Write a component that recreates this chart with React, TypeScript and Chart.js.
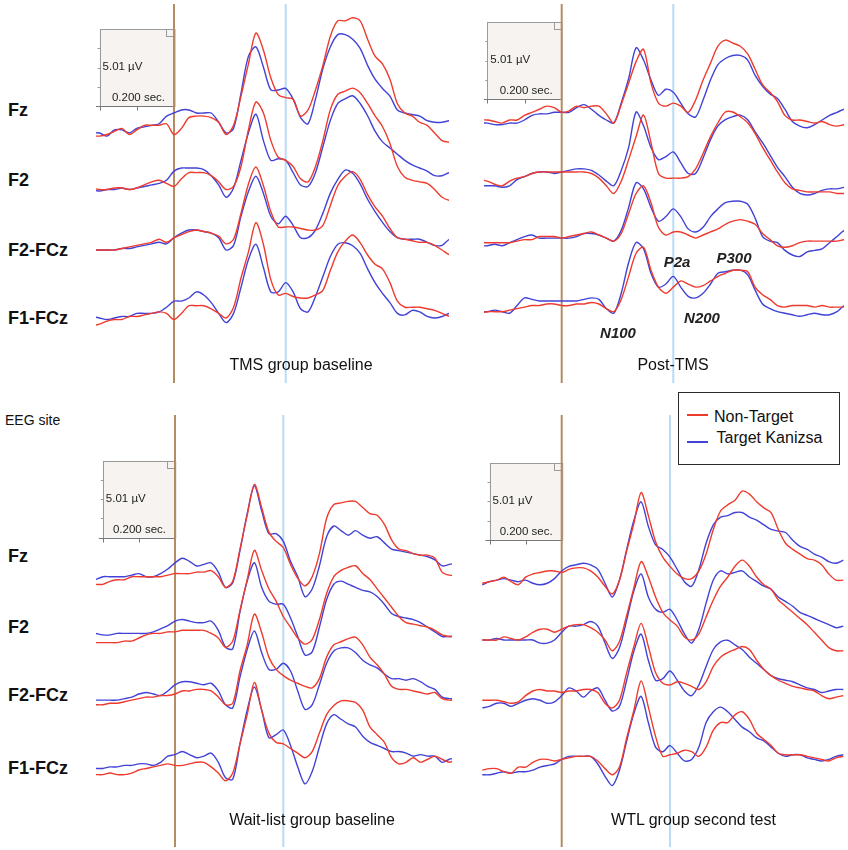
import React, { useEffect, useRef } from "react";
import { Chart, registerables } from "chart.js";

Chart.register(...registerables);

// ---------------- data ----------------
const TIMES_MS = [
  -220, -200, -180, -160, -140, -120, -100, -80, -60, -40,
  -20, 0, 20, 40, 60, 80, 100, 120, 140, 160,
  180, 200, 220, 240, 260, 280, 300, 320, 340, 360,
  380, 400, 420, 440, 460, 480, 500, 520, 540, 560,
  580, 600, 620, 640, 660, 680, 700, 720, 740, 760,
  780,
];
const CHANNELS = ["Fz", "F2", "F2-FCz", "F1-FCz"];
const SERIES_NAMES = ["Non-Target", "Target Kanizsa"];
const SCALE_UV = 5.01;
const SCALE_MS = 200;
const MARKER_MS = 300;
const ANNOTATIONS = ["P2a", "P300", "N100", "N200"];

// TMS group baseline (µV)
const TMSB_FZ_NON = [
  -0.2, -0.2, -0.1, 0.1, 0.3, -0.1, 0.2, 0.5, 0.5, 0.5,
  0.6, -0.1, 0.3, 1.0, 1.1, 1.1, 1.0, 0.7, -0.1, 0.5,
  2.4, 4.5, 6.5, 5.4, 3.6, 2.5, 2.3, 2.2, 1.1, 1.5,
  2.8, 4.4, 6.3, 7.3, 7.3, 7.5, 7.3, 6.1, 5.0, 4.5,
  3.5, 1.9, 1.3, 1.1, 0.7, 0.5, 0.0, -0.5, -0.6, -0.6,
  -0.6,
];
const TMSB_FZ_TGT = [
  0.0, 0.0, -0.2, 0.2, 0.2, 0.0, 0.3, 0.4, 0.5, 0.6,
  1.1, 1.3, 1.5, 1.5, 1.3, 1.3, 1.3, 0.7, 0.0, 0.3,
  2.6, 5.0, 5.6, 4.3, 2.8, 2.8, 2.9, 2.2, 1.0, 0.6,
  2.2, 4.2, 5.6, 6.4, 6.4, 6.1, 5.5, 4.4, 3.5, 2.9,
  2.4, 1.5, 1.3, 1.2, 1.1, 0.8, 0.7, 0.7, 0.8, 0.8,
  0.8,
];
const TMSB_F2_NON = [
  0.0, -0.1, -0.1, 0.0, 0.0, -0.1, 0.0, 0.2, 0.4, 0.5,
  0.3, 0.1, 0.6, 1.0, 1.0, 1.0, 0.8, 0.4, -0.1, 0.1,
  1.4, 3.8, 5.6, 4.9, 3.1, 2.0, 1.8, 1.4, 0.6, 0.4,
  1.4, 3.1, 5.1, 6.1, 6.3, 6.5, 6.2, 5.5, 4.7, 4.0,
  2.9, 1.4, 0.7, 0.5, 0.4, 0.3, -0.1, -0.6, -0.8, -0.8,
  -0.8,
];
const TMSB_F2_TGT = [
  -0.1, -0.2, -0.1, -0.1, 0.0, -0.1, 0.0, 0.1, 0.2, 0.3,
  0.5, 1.1, 1.3, 1.3, 1.3, 1.2, 0.8, 0.2, -0.6, 0.0,
  1.8, 3.6, 4.8, 3.1, 1.8, 1.9, 1.8, 1.0, 0.2, 0.1,
  1.0, 2.7, 4.4, 5.5, 5.8, 6.0, 5.5, 4.7, 3.7, 3.0,
  2.6, 2.2, 1.8, 1.5, 1.3, 1.1, 0.8, 0.8, 1.0, 1.0,
  1.0,
];
const TMSB_F2FCZ_NON = [
  0.0, 0.0, 0.0, 0.0, 0.1, 0.2, 0.3, 0.4, 0.5, 0.7,
  0.5, 0.8, 1.0, 1.2, 1.3, 1.2, 1.1, 0.9, 0.4, 0.7,
  2.4, 4.3, 5.4, 4.2, 2.5, 1.5, 1.5, 1.5, 1.4, 1.3,
  1.3, 1.6, 2.9, 4.2, 4.8, 5.1, 4.6, 3.6, 2.8, 2.2,
  1.4, 0.8, 0.7, 0.6, 0.5, 0.5, 0.3, 0.0, -0.3, -0.3,
  -0.3,
];
const TMSB_F2FCZ_TGT = [
  0.0, 0.0, 0.0, 0.0, 0.1, 0.1, 0.2, 0.3, 0.4, 0.5,
  0.4, 0.8, 1.1, 1.3, 1.3, 1.2, 1.1, 0.8, 0.0, 0.3,
  2.2, 3.8, 4.8, 3.7, 2.2, 1.7, 2.2, 1.6, 0.8, 0.8,
  1.3, 2.4, 3.7, 4.6, 5.2, 5.0, 4.3, 3.3, 2.5, 1.8,
  1.2, 0.8, 0.7, 0.7, 0.7, 0.5, 0.3, 0.3, 0.7, 0.7,
  0.7,
];
const TMSB_F1FCZ_NON = [
  -0.5, -0.4, -0.2, -0.1, -0.1, 0.1, 0.1, 0.2, 0.3, 0.4,
  0.3, -0.1, 0.3, 0.8, 0.8, 0.8, 0.6, 0.3, 0.0, 0.7,
  2.6, 4.3, 6.2, 4.8, 2.5, 1.5, 1.6, 1.4, 1.3, 1.3,
  1.5, 1.8, 3.1, 4.3, 5.0, 5.4, 4.9, 4.1, 3.5, 3.2,
  2.3, 1.1, 0.7, 0.7, 0.7, 0.6, 0.5, 0.3, 0.1, 0.1,
  0.1,
];
const TMSB_F1FCZ_TGT = [
  0.1, 0.0, -0.1, 0.0, 0.1, 0.1, 0.3, 0.3, 0.3, 0.4,
  0.7, 1.1, 1.1, 1.3, 1.7, 1.5, 1.0, 0.3, -0.3, 0.3,
  2.0, 3.8, 4.8, 3.3, 1.7, 1.7, 2.3, 1.7, 0.6, 0.4,
  1.4, 2.7, 4.0, 4.8, 4.9, 4.7, 4.2, 3.2, 2.3, 1.6,
  1.0, 0.3, 0.2, 0.5, 0.4, 0.1, 0.0, 0.1, 0.3, 0.3,
  0.3,
];

// Post-TMS (µV)
const POST_FZ_NON = [
  0.0, 0.0, -0.1, -0.2, 0.0, 0.0, 0.3, 0.5, 0.7, 0.9,
  0.8, 0.5, 0.6, 0.9, 0.8, 0.9, 0.9, 0.4, -0.2, 1.0,
  2.4, 3.8, 4.6, 2.4, 1.1, 0.9, 1.1, 0.9, 0.5, 1.3,
  2.6, 3.7, 4.8, 5.2, 5.0, 4.8, 4.3, 3.3, 2.3, 1.8,
  1.2, 0.3, 0.0, 0.0, -0.1, -0.2, -0.1, -0.3, -0.4, -0.3,
  -0.3,
];
const POST_FZ_TGT = [
  -0.2, -0.2, -0.3, -0.3, -0.2, -0.2, 0.0, 0.3, 0.4, 0.4,
  0.5, 0.5, 0.5, 0.8, 1.0, 0.7, 0.3, 0.0, -0.2, 1.1,
  2.7, 4.7, 3.9, 2.6, 1.6, 2.0, 1.8, 1.1, 0.4, 0.2,
  1.3, 2.6, 3.6, 4.0, 4.2, 4.2, 3.9, 2.9, 2.2, 1.7,
  1.4, 0.7, -0.1, -0.4, -0.5, -0.3, 0.0, 0.3, 0.5, 0.7,
  0.7,
];
const POST_F2_NON = [
  0.2, 0.1, -0.1, -0.2, 0.1, 0.3, 0.4, 0.6, 0.7, 0.7,
  0.7, 0.7, 0.7, 0.7, 0.7, 0.6, 0.3, -0.2, -0.7, 0.1,
  1.5, 3.0, 4.4, 2.6, 0.6, 0.3, 0.3, 0.3, 0.4, 0.9,
  1.9, 3.0, 3.9, 4.6, 4.6, 4.3, 3.9, 3.2, 2.3, 1.5,
  0.7, 0.0, -0.4, -0.5, -0.6, -0.6, -0.6, -0.6, -0.7, -0.7,
  -0.7,
];
const POST_F2_TGT = [
  -0.2, -0.2, -0.2, -0.3, -0.2, 0.2, 0.4, 0.6, 0.7, 0.7,
  0.6, 0.7, 0.8, 0.9, 0.9, 0.8, 0.5, 0.1, -0.2, 0.8,
  2.3, 4.6, 3.7, 2.3, 1.5, 1.7, 2.0, 1.3, 0.6, 0.6,
  1.6, 2.8, 3.7, 4.1, 4.3, 4.4, 4.1, 3.3, 2.6, 1.8,
  1.0, 0.4, -0.3, -0.7, -0.8, -0.7, -0.5, -0.4, -0.4, -0.3,
  -0.3,
];
const POST_F2FCZ_NON = [
  0.0, 0.0, 0.0, 0.0, 0.0, 0.1, 0.2, 0.2, 0.4, 0.4,
  0.4, 0.3, 0.4, 0.5, 0.6, 0.7, 0.5, 0.3, 0.1, 0.6,
  1.9, 3.2, 3.7, 2.6, 1.0, 0.5, 0.7, 0.7, 0.5, 0.3,
  0.5, 0.7, 0.9, 1.2, 1.4, 1.5, 1.4, 1.2, 0.6, 0.2,
  -0.2, -0.3, -0.2, 0.0, 0.1, 0.1, 0.1, 0.1, 0.1, 0.2,
  0.2,
];
const POST_F2FCZ_TGT = [
  -0.2, -0.2, -0.1, -0.2, 0.0, 0.2, 0.4, 0.5, 0.3, 0.3,
  0.3, 0.3, 0.3, 0.4, 0.6, 0.6, 0.5, 0.3, 0.1, 0.8,
  2.3, 3.9, 3.5, 2.3, 1.4, 1.7, 2.2, 1.7, 0.9, 0.7,
  1.0, 1.7, 2.2, 2.6, 2.7, 2.7, 2.5, 1.6, 0.4, 0.1,
  0.0, -0.5, -0.8, -0.9, -0.6, -0.5, -0.4, 0.0, 0.4, 0.8,
  0.8,
];
const POST_F1FCZ_NON = [
  -0.1, 0.0, 0.0, 0.0, 0.1, 0.2, 0.3, 0.4, 0.4, 0.5,
  0.5, 0.4, 0.4, 0.5, 0.5, 0.6, 0.5, 0.2, 0.0, 0.8,
  2.3, 3.8, 4.2, 2.7, 1.6, 1.2, 1.6, 2.0, 1.8, 1.6,
  1.7, 2.0, 2.3, 2.5, 2.7, 2.7, 2.6, 1.6, 1.1, 0.8,
  0.4, 0.3, 0.4, 0.4, 0.4, 0.3, 0.4, 0.3, 0.3, 0.3,
  0.3,
];
const POST_F1FCZ_TGT = [
  0.0, 0.0, 0.1, 0.0, -0.1, 0.4, 0.9, 0.8, 0.7, 0.7,
  0.7, 0.7, 0.7, 0.7, 0.8, 0.9, 0.8, 0.2, -0.1, 1.2,
  3.2, 4.5, 4.1, 2.5, 1.6, 1.8, 2.3, 1.6, 1.0, 0.9,
  1.2, 1.8, 2.5, 2.6, 2.7, 2.7, 2.4, 1.4, 0.5, 0.2,
  0.0, -0.1, -0.2, -0.3, -0.2, -0.1, -0.2, -0.2, 0.0, 0.4,
  0.4,
];

// Wait-list group baseline (µV)
const WLB_FZ_NON = [
  -0.5, -0.5, -0.3, -0.2, -0.2, 0.0, 0.0, 0.0, 0.0, 0.0,
  0.1, 0.2, 0.2, 0.2, 0.3, 0.3, 0.4, 0.0, -0.7, -0.3,
  1.8, 4.0, 6.0, 4.5, 2.9, 2.3, 1.9, 0.8, -0.1, -0.6,
  0.0, 1.5, 3.8, 4.7, 4.8, 4.9, 4.9, 4.5, 4.1, 4.0,
  3.4, 2.4, 1.8, 1.7, 1.5, 1.4, 1.4, 1.2, 0.3, 0.1,
  0.1,
];
const WLB_FZ_TGT = [
  -0.2, 0.0, 0.0, 0.0, 0.0, 0.1, 0.2, 0.0, 0.0, 0.2,
  0.5, 0.9, 1.2, 1.0, 0.7, 0.8, 0.9, 0.3, -0.7, -0.4,
  1.7, 4.1, 5.9, 4.3, 2.8, 2.8, 2.3, 1.0, 0.0, -1.3,
  -0.8, 0.7, 2.6, 3.3, 3.0, 2.7, 3.0, 2.7, 2.5, 2.6,
  2.2, 1.8, 1.7, 1.6, 1.5, 1.4, 1.3, 1.1, 0.7, 0.8,
  0.9,
];
const WLB_F2_NON = [
  -0.3, -0.3, -0.3, -0.3, -0.2, -0.2, 0.0, 0.2, 0.3, 0.3,
  0.4, 0.4, 0.5, 0.5, 0.5, 0.5, 0.3, 0.0, -0.6, -0.2,
  1.8, 3.8, 5.7, 4.4, 3.2, 2.4, 1.4, 0.7, 0.0, -0.4,
  -0.1, 1.2, 2.9, 4.0, 4.4, 4.6, 4.7, 4.2, 3.8, 3.2,
  2.6, 2.0, 1.4, 1.0, 0.9, 0.8, 0.7, 0.5, 0.2, 0.1,
  0.1,
];
const WLB_F2_TGT = [
  0.3, 0.2, 0.2, 0.3, 0.3, 0.3, 0.3, 0.3, 0.4, 0.6,
  0.8, 1.1, 1.2, 1.1, 1.0, 1.0, 1.1, 0.5, -0.6, -0.7,
  1.7, 3.7, 4.9, 3.3, 2.4, 2.2, 2.2, 1.3, 0.1, -1.1,
  -0.9, 0.7, 2.5, 3.5, 3.7, 3.5, 3.3, 3.1, 3.0, 2.7,
  2.2, 1.6, 1.4, 1.3, 1.2, 1.0, 0.7, 0.4, 0.1, 0.1,
  0.1,
];
const WLB_F2FCZ_NON = [
  -0.2, -0.2, -0.1, -0.1, 0.0, 0.1, 0.2, 0.3, 0.3, 0.4,
  0.4, 0.5, 0.7, 0.7, 0.8, 0.8, 0.7, 0.3, -0.2, -0.1,
  2.0, 3.7, 5.7, 4.5, 2.9, 2.1, 1.7, 1.4, 1.2, 1.0,
  0.9, 1.5, 2.9, 3.7, 3.9, 4.1, 4.2, 3.7, 2.9, 2.4,
  1.8, 1.0, 0.8, 0.8, 0.7, 0.6, 0.5, 0.6, 0.2, 0.1,
  0.1,
];
const WLB_F2FCZ_TGT = [
  0.1, 0.1, 0.1, 0.1, 0.2, 0.3, 0.5, 0.6, 0.5, 0.4,
  0.7, 1.1, 1.3, 1.3, 1.2, 1.1, 1.2, 0.7, -0.2, -0.4,
  1.6, 3.4, 4.6, 3.2, 2.1, 2.1, 2.5, 2.0, 0.7, -0.5,
  -0.2, 1.1, 2.5, 3.3, 3.5, 3.5, 3.2, 2.7, 2.4, 2.2,
  1.8, 1.5, 1.5, 1.4, 1.5, 1.3, 1.0, 0.8, 0.3, 0.2,
  0.2,
];
const WLB_F1FCZ_NON = [
  -0.3, -0.3, -0.2, -0.3, -0.3, -0.2, 0.0, 0.1, 0.2, 0.3,
  0.4, 0.3, 0.3, 0.4, 0.5, 0.5, 0.2, -0.2, -0.7, -0.2,
  1.7, 3.6, 5.7, 3.9, 2.4, 1.8, 1.7, 1.4, 1.1, 0.8,
  1.2, 2.4, 3.6, 4.2, 4.5, 4.5, 4.4, 3.9, 2.8, 2.3,
  1.8, 0.8, 0.4, 0.5, 0.8, 0.5, 0.7, 0.9, 0.7, 0.5,
  0.7,
];
const WLB_F1FCZ_TGT = [
  0.1, 0.1, 0.2, 0.2, 0.3, 0.3, 0.4, 0.4, 0.3, 0.5,
  0.9, 1.0, 1.2, 1.0, 0.8, 0.9, 1.1, 0.5, -0.5, -0.6,
  1.7, 3.9, 5.4, 3.9, 2.1, 2.3, 2.6, 1.6, 0.2, -0.9,
  -0.1, 1.5, 3.0, 3.6, 3.3, 3.0, 2.8, 2.2, 1.8, 1.6,
  1.4, 1.2, 1.2, 1.1, 0.9, 1.0, 0.9, 0.9, 0.5, 0.7,
  0.8,
];

// WTL group second test (µV)
const WTL2_FZ_NON = [
  -0.1, 0.0, 0.1, 0.3, 0.0, -0.2, 0.3, 0.5, 0.6, 0.7,
  0.7, 0.6, 0.8, 0.9, 0.9, 0.7, 0.3, -0.3, -0.8, 0.1,
  2.0, 3.8, 5.8, 4.3, 2.6, 1.6, 1.0, 0.5, 0.2, 0.2,
  0.7, 1.8, 3.4, 4.6, 5.0, 5.3, 5.9, 5.7, 5.2, 4.8,
  4.5, 3.4, 2.5, 2.1, 1.8, 1.5, 1.4, 1.1, 0.5, 0.1,
  0.1,
];
const WTL2_FZ_TGT = [
  -0.2, 0.0, 0.1, 0.2, 0.1, 0.0, 0.1, -0.1, -0.2, -0.1,
  0.2, 0.7, 1.0, 1.1, 1.2, 1.1, 0.8, -0.1, -1.0, 0.1,
  2.1, 4.0, 5.2, 3.6, 2.4, 2.1, 1.6, 0.8, 0.0, -0.3,
  0.8, 2.5, 3.7, 4.2, 4.3, 4.5, 4.5, 4.2, 4.0, 3.7,
  3.4, 3.3, 3.2, 2.7, 2.3, 2.1, 1.8, 1.6, 1.3, 1.2,
  1.4,
];
const WTL2_F2_NON = [
  0.0, 0.0, 0.0, 0.2, 0.1, 0.0, 0.2, 0.5, 0.7, 0.7,
  0.5, 0.7, 0.9, 1.0, 1.0, 0.8, 0.5, 0.0, -0.7, -0.1,
  1.6, 3.4, 5.1, 4.1, 2.8, 1.8, 1.3, 0.9, 0.2, 0.0,
  0.4, 1.5, 2.6, 3.5, 4.1, 4.8, 5.2, 4.8, 4.1, 3.6,
  3.3, 2.6, 2.2, 1.8, 1.4, 1.0, 0.5, 0.0, -0.5, -0.7,
  -0.7,
];
const WTL2_F2_TGT = [
  0.0, 0.0, 0.1, 0.0, 0.0, 0.0, 0.0, 0.0, -0.2, -0.2,
  0.0, 0.5, 0.9, 0.9, 1.0, 1.2, 0.9, -0.2, -1.2, -0.5,
  1.3, 3.2, 4.3, 2.8, 2.0, 1.8, 2.0, 1.3, 0.4, -0.2,
  0.7, 2.4, 3.9, 4.5, 4.3, 4.4, 4.5, 4.1, 3.8, 3.5,
  3.3, 2.8, 2.5, 2.2, 1.8, 1.6, 1.4, 1.2, 1.0, 0.8,
  0.9,
];
const WTL2_F2FCZ_NON = [
  0.2, 0.2, 0.2, 0.1, 0.0, 0.1, 0.5, 0.8, 0.9, 0.8,
  0.8, 0.7, 0.8, 0.8, 0.9, 0.9, 0.7, 0.0, -0.3, 0.2,
  2.0, 3.7, 5.2, 3.7, 2.0, 1.3, 1.2, 1.4, 1.3, 1.1,
  0.9, 1.4, 2.4, 3.0, 3.3, 3.5, 3.7, 3.5, 2.8, 2.2,
  1.8, 1.5, 1.3, 1.1, 1.0, 0.9, 0.8, 0.5, 0.3, 0.4,
  0.5,
];
const WTL2_F2FCZ_TGT = [
  -0.3, -0.2, 0.0, 0.0, -0.2, 0.0, 0.2, 0.3, 0.2, 0.0,
  0.1, 0.5, 1.0, 0.8, 0.4, 0.8, 1.0, 0.2, -0.5, -0.2,
  1.5, 3.4, 4.5, 2.8, 1.5, 1.6, 2.1, 1.5, 0.8, 0.5,
  1.2, 2.4, 3.5, 4.0, 4.1, 3.8, 3.5, 3.0, 2.6, 2.2,
  1.8, 1.6, 1.5, 1.4, 1.2, 1.0, 0.9, 0.7, 0.8, 0.9,
  0.9,
];
const WTL2_F1FCZ_NON = [
  0.1, 0.2, 0.2, 0.0, -0.1, 0.3, 0.3, 0.6, 0.8, 0.8,
  0.7, 0.8, 0.9, 1.0, 1.0, 1.0, 0.7, 0.2, -0.2, 0.3,
  2.2, 4.0, 5.9, 4.2, 2.3, 1.0, 1.1, 1.2, 1.4, 1.3,
  1.0, 1.6, 2.7, 3.2, 3.2, 3.7, 3.9, 3.4, 2.5, 2.1,
  1.7, 1.2, 1.1, 1.1, 1.1, 1.0, 0.9, 0.8, 0.7, 0.9,
  1.0,
];
const WTL2_F1FCZ_TGT = [
  -0.2, -0.2, -0.1, 0.0, -0.1, 0.0, 0.0, 0.1, 0.3, 0.4,
  0.5, 0.8, 1.0, 1.0, 1.0, 1.0, 0.5, -0.3, -0.9, 0.1,
  2.0, 3.8, 4.9, 3.2, 1.6, 1.3, 1.7, 1.2, 0.7, 0.8,
  1.6, 3.2, 3.9, 4.2, 3.9, 3.4, 2.9, 2.6, 2.2, 2.0,
  1.6, 1.2, 1.0, 1.1, 1.1, 0.9, 0.8, 0.7, 0.8, 1.0,
  1.1,
];

// ---------------- layout / style ----------------
const FONT = '"Liberation Sans", Arial, Helvetica, sans-serif';
const RED = "#ee3b2e";
const BLUE = "#4242d6";
const ONSET_COLOR = "#b58b63";
const MARKER_COLOR = "#b8dbf6";
const PX_PER_UV = 77 / 5.01;

type PanelCfg = {
  title: string;
  non: number[][];
  tgt: number[][];
  left: number;
  right: number;
  top: number;
  bottom: number;
  onsetX: number;
  pxPerMs: number;
  zeros: number[];
  boxBottom: number;
  titleX: number;
  titleY: number;
};

const PANELS: PanelCfg[] = [
  {
    title: "TMS group baseline",
    non: [TMSB_FZ_NON, TMSB_F2_NON, TMSB_F2FCZ_NON, TMSB_F1FCZ_NON],
    tgt: [TMSB_FZ_TGT, TMSB_F2_TGT, TMSB_F2FCZ_TGT, TMSB_F1FCZ_TGT],
    left: 96, right: 449, top: 4, bottom: 383,
    onsetX: 174, pxPerMs: 0.3723,
    zeros: [133, 188, 250, 318], boxBottom: 106,
    titleX: 301, titleY: 365,
  },
  {
    title: "Post-TMS",
    non: [POST_FZ_NON, POST_F2_NON, POST_F2FCZ_NON, POST_F1FCZ_NON],
    tgt: [POST_FZ_TGT, POST_F2_TGT, POST_F2FCZ_TGT, POST_F1FCZ_TGT],
    left: 484, right: 844, top: 4, bottom: 383,
    onsetX: 561.7, pxPerMs: 0.372,
    zeros: [120, 182.7, 242.7, 311.7], boxBottom: 99,
    titleX: 673, titleY: 365,
  },
  {
    title: "Wait-list group baseline",
    non: [WLB_FZ_NON, WLB_F2_NON, WLB_F2FCZ_NON, WLB_F1FCZ_NON],
    tgt: [WLB_FZ_TGT, WLB_F2_TGT, WLB_F2FCZ_TGT, WLB_F1FCZ_TGT],
    left: 96, right: 452, top: 415, bottom: 847,
    onsetX: 175, pxPerMs: 0.361,
    zeros: [576.7, 638, 701.7, 770], boxBottom: 537.7,
    titleX: 312, titleY: 820,
  },
  {
    title: "WTL group second test",
    non: [WTL2_FZ_NON, WTL2_F2_NON, WTL2_F2FCZ_NON, WTL2_F1FCZ_NON],
    tgt: [WTL2_FZ_TGT, WTL2_F2_TGT, WTL2_F2FCZ_TGT, WTL2_F1FCZ_TGT],
    left: 482, right: 844, top: 415, bottom: 847,
    onsetX: 561.7, pxPerMs: 0.361,
    zeros: [581.7, 640, 703.3, 771.7], boxBottom: 540,
    titleX: 693.5, titleY: 820,
  },
];

const LABEL_Y_TOP = [110, 180, 250, 318];
const LABEL_Y_BOTTOM = [556, 627, 695, 768];
const ANNOT_POS = [
  { x: 677, y: 261 },
  { x: 734, y: 257 },
  { x: 618, y: 332 },
  { x: 702, y: 317 },
];

function Panel({ cfg }: { cfg: PanelCfg }) {
  const ref = useRef<HTMLCanvasElement | null>(null);
  const W = cfg.right - cfg.left;
  const H = cfg.bottom - cfg.top;

  useEffect(() => {
    const canvas = ref.current;
    if (!canvas) return;
    const xmin = (cfg.left - cfg.onsetX) / cfg.pxPerMs;
    const xmax = (cfg.right - cfg.onsetX) / cfg.pxPerMs;
    const offsetOf = (py: number) => -(py - cfg.top) / PX_PER_UV;
    const boxBase = offsetOf(cfg.boxBottom);

    const datasets: any[] = [];
    cfg.zeros.forEach((z, k) => {
      const off = offsetOf(z);
      datasets.push({
        label: `${CHANNELS[k]} ${SERIES_NAMES[0]}`,
        data: TIMES_MS.map((t, i) => ({ x: t, y: off + cfg.non[k][i] })),
        borderColor: RED,
        borderWidth: 1.4,
        pointRadius: 0,
        tension: 0.3,
        fill: false,
      });
      datasets.push({
        label: `${CHANNELS[k]} ${SERIES_NAMES[1]}`,
        data: TIMES_MS.map((t, i) => ({ x: t, y: off + cfg.tgt[k][i] })),
        borderColor: BLUE,
        borderWidth: 1.4,
        pointRadius: 0,
        tension: 0.3,
        fill: false,
      });
    });

    const markers = {
      id: "erpMarkers",
      beforeDatasetsDraw(chart: any) {
        const { ctx, chartArea, scales } = chart;
        const xs = scales.x;
        const ys = scales.y;
        ctx.save();
        // calibration box
        const bx0 = xs.getPixelForValue(-SCALE_MS);
        const bx1 = xs.getPixelForValue(0);
        const by1 = ys.getPixelForValue(boxBase);
        const by0 = ys.getPixelForValue(boxBase + SCALE_UV);
        ctx.fillStyle = "#f6f3f1";
        ctx.fillRect(bx0, by0, bx1 - bx0, by1 - by0);
        ctx.strokeStyle = "#9a9a9a";
        ctx.lineWidth = 1;
        ctx.strokeRect(Math.round(bx0) + 0.5, Math.round(by0) + 0.5, bx1 - bx0, by1 - by0);
        ctx.strokeRect(Math.round(bx1) - 7.5, Math.round(by0) + 0.5, 7, 7);
        ctx.beginPath();
        for (let i = 1; i < 4; i++) {
          const ty = Math.round(by0 + ((by1 - by0) * i) / 4) + 0.5;
          ctx.moveTo(bx0 - 2, ty);
          ctx.lineTo(bx0 + 0.5, ty);
        }
        ctx.stroke();
        ctx.strokeStyle = "#777";
        ctx.beginPath();
        const ay = Math.round(by1) + 0.5;
        ctx.moveTo(bx0 - 4, ay);
        ctx.lineTo(bx1, ay);
        ctx.moveTo(Math.round(bx0) + 0.5, ay);
        ctx.lineTo(Math.round(bx0) + 0.5, ay + 4);
        const mid = Math.round((bx0 + bx1) / 2) + 0.5;
        ctx.moveTo(mid, ay);
        ctx.lineTo(mid, ay + 4);
        ctx.stroke();
        ctx.fillStyle = "#1e1e18";
        ctx.font = `11.5px ${FONT}`;
        ctx.textBaseline = "middle";
        ctx.textAlign = "left";
        ctx.fillText(`${SCALE_UV.toFixed(2)} µV`, bx0 + 3, by0 + (by1 - by0) * 0.49);
        ctx.textAlign = "right";
        ctx.fillText(`${(SCALE_MS / 1000).toFixed(3)} sec.`, bx1 - 9, by1 - 8);
        // onset & marker lines
        ctx.lineWidth = 2;
        ctx.strokeStyle = MARKER_COLOR;
        const mx = xs.getPixelForValue(MARKER_MS);
        ctx.beginPath();
        ctx.moveTo(mx, chartArea.top);
        ctx.lineTo(mx, chartArea.bottom);
        ctx.stroke();
        ctx.strokeStyle = ONSET_COLOR;
        ctx.beginPath();
        ctx.moveTo(bx1, chartArea.top);
        ctx.lineTo(bx1, chartArea.bottom);
        ctx.stroke();
        ctx.restore();
      },
    };

    const chart = new Chart(canvas, {
      type: "line",
      data: { datasets },
      options: {
        animation: false,
        responsive: false,
        maintainAspectRatio: false,
        events: [],
        layout: { padding: 0 },
        plugins: { legend: { display: false }, tooltip: { enabled: false }, title: { display: false } },
        scales: {
          x: { type: "linear", min: xmin, max: xmax, display: false },
          y: { type: "linear", min: -H / PX_PER_UV, max: 0, display: false },
        },
      },
      plugins: [markers],
    } as any);
    return () => chart.destroy();
  }, [cfg, W, H]);

  return (
    <canvas
      ref={ref}
      width={W}
      height={H}
      style={{ position: "absolute", left: cfg.left, top: cfg.top, width: W, height: H }}
    />
  );
}

const abs = (x: number, y: number, extra: React.CSSProperties = {}): React.CSSProperties => ({
  position: "absolute",
  left: x,
  top: y,
  whiteSpace: "nowrap",
  fontFamily: FONT,
  color: "#111",
  lineHeight: 1,
  ...extra,
});

export default function App() {
  return (
    <div
      style={{
        position: "absolute",
        left: 0,
        top: 0,
        width: 848,
        height: 850,
        background: "#fff",
        overflow: "hidden",
        fontFamily: FONT,
      }}
    >
      {PANELS.map((p, i) => (
        <Panel key={i} cfg={p} />
      ))}
      {PANELS.map((p, i) => (
        <div key={"t" + i} style={abs(p.titleX, p.titleY, { fontSize: 16, transform: "translate(-50%, -50%)" })}>
          {p.title}
        </div>
      ))}
      {CHANNELS.map((c, i) => (
        <div key={"lt" + i} style={abs(8, LABEL_Y_TOP[i], { fontSize: 18, fontWeight: "bold", transform: "translateY(-50%)" })}>
          {c}
        </div>
      ))}
      {CHANNELS.map((c, i) => (
        <div key={"lb" + i} style={abs(8, LABEL_Y_BOTTOM[i], { fontSize: 18, fontWeight: "bold", transform: "translateY(-50%)" })}>
          {c}
        </div>
      ))}
      <div style={abs(5, 420, { fontSize: 14, transform: "translateY(-50%)" })}>EEG site</div>
      {ANNOTATIONS.map((a, i) => (
        <div
          key={"a" + i}
          style={abs(ANNOT_POS[i].x, ANNOT_POS[i].y, {
            fontSize: 15,
            fontWeight: "bold",
            fontStyle: "italic",
            color: "#222",
            transform: "translate(-50%, -50%)",
          })}
        >
          {a}
        </div>
      ))}
      <div
        style={{
          position: "absolute",
          left: 678,
          top: 392,
          width: 162,
          height: 73,
          border: "1.5px solid #2b2b2b",
          boxSizing: "border-box",
          background: "#fff",
        }}
      />
      <div style={{ position: "absolute", left: 687, top: 414, width: 21, height: 2, background: RED }} />
      <div style={{ position: "absolute", left: 687, top: 441, width: 21, height: 2, background: BLUE }} />
      <div style={abs(714, 417, { fontSize: 16, transform: "translateY(-50%)" })}>{SERIES_NAMES[0]}</div>
      <div style={abs(716.5, 438, { fontSize: 16, transform: "translateY(-50%)" })}>{SERIES_NAMES[1]}</div>
    </div>
  );
}
